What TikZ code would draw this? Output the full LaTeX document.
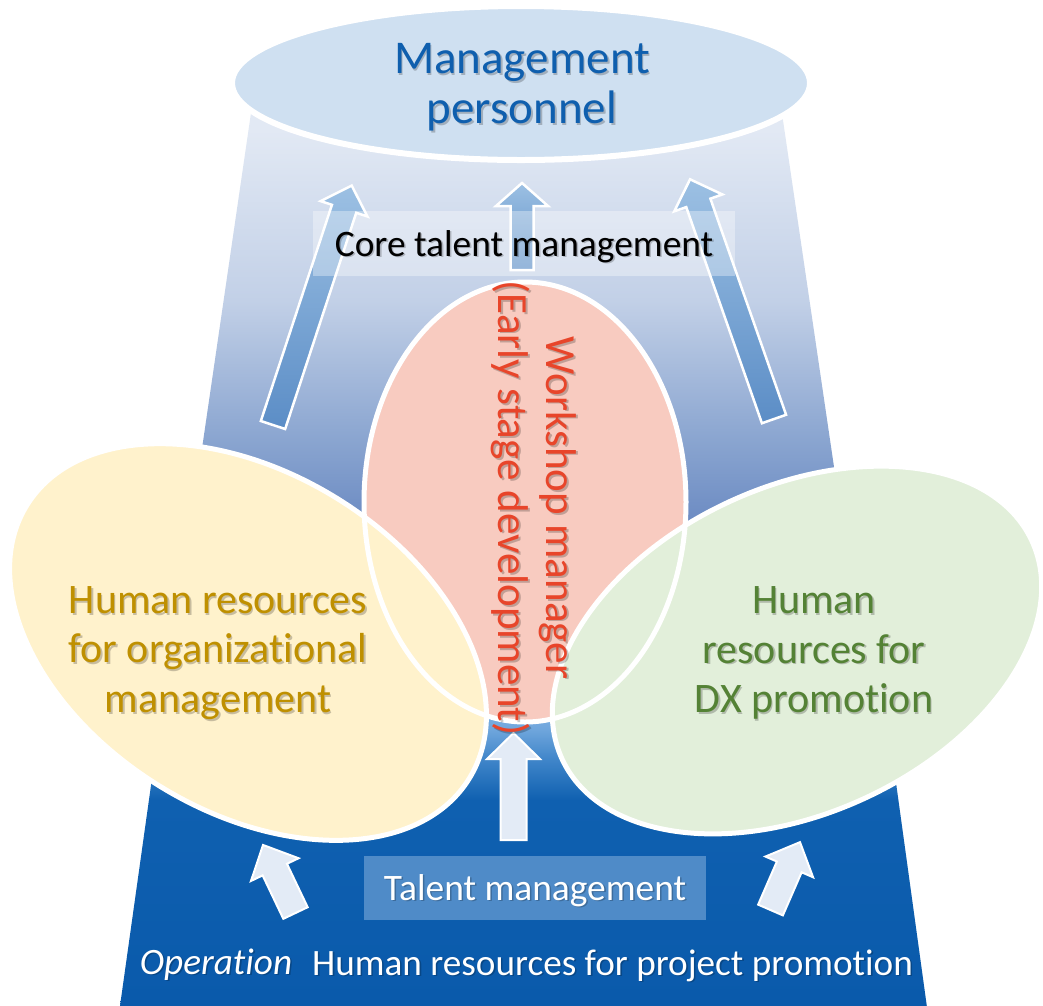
\documentclass[tikz,border=0pt]{standalone}
\usepackage{fontspec}
\setmainfont{Carlito}[Ligatures=NoCommon]
\usetikzlibrary{shapes.geometric,calc}
\definecolor{ub1}{HTML}{E2E9F4}
\definecolor{ub2}{HTML}{C2D0E7}
\definecolor{ub3}{HTML}{8AA5D0}
\definecolor{ub4}{HTML}{6D8CC3}
\definecolor{ub5}{HTML}{5A80BE}
\definecolor{lb1}{HTML}{8AB9E6}
\definecolor{lb2}{HTML}{6EA5DC}
\definecolor{lb3}{HTML}{3F85C9}
\definecolor{lb4}{HTML}{0F60B0}
\definecolor{lb5}{HTML}{0A5AAB}
\definecolor{topfill}{HTML}{CFE0F1}
\definecolor{toptext}{HTML}{0F5FAE}
\definecolor{redfill}{HTML}{F8CBC0}
\definecolor{redtext}{HTML}{E8452A}
\definecolor{yelfill}{HTML}{FFF2CC}
\definecolor{yeltext}{HTML}{BF9000}
\definecolor{grnfill}{HTML}{E2EFDA}
\definecolor{grntext}{HTML}{548235}
\definecolor{arrtop}{HTML}{9CC0E3}
\definecolor{arrbot}{HTML}{5B8DC6}
\definecolor{lowarr}{HTML}{E3EBF6}
\definecolor{tmbox}{HTML}{4F8BC8}
\pgfdeclareverticalshading{upperbg}{100bp}{color(0bp)=(ub5); color(25bp)=(ub5); color(40.9bp)=(ub4); color(47.4bp)=(ub3); color(58.7bp)=(ub2); color(72.6bp)=(ub1); color(100bp)=(ub1)}
\pgfdeclareverticalshading{lowerbg}{100bp}{color(0bp)=(lb5); color(25bp)=(lb5); color(58.6bp)=(lb4); color(65.2bp)=(lb3); color(70.1bp)=(lb2); color(75bp)=(lb1); color(100bp)=(lb1)}
\newcommand\blockarrow[7]{%
  \begin{scope}[shift={#2}, rotate=#3]
    \path[#1] (0,-#5) -- ({#4-#7},-#5) -- ({#4-#7},-#6) -- (#4,0) -- ({#4-#7},#6) -- ({#4-#7},#5) -- (0,#5) -- cycle;
  \end{scope}}
% text with a soft drop shadow: name, position, options, text
\newcommand\shtext[4]{%
  \node[lbl, #3, text=black, text opacity=0.22] (#1-sh) at ($#2+(1.6,1.8)$) {#4};
  \node[lbl, #3] (#1) at #2 {#4};}
\tikzset{
  upperarrow/.style={draw=white, line width=2.5pt, top color=arrtop, bottom color=arrbot, line join=miter},
  lowerarrow/.style={draw=white, line width=2pt, fill=lowarr, line join=miter},
  outline/.style={draw=white, line width=5pt},
  lbl/.style={inner sep=0pt, align=center},
}
\begin{document}
\begin{tikzpicture}[x=1pt,y=-1pt]
\useasboundingbox (0,0) rectangle (1043,1005);
\fill[white] (0,0) rectangle (1043,1005);
% background trapezoids
\shade[shading=upperbg] (252.9,100) -- (780,100) -- (870.5,715) -- (163.1,715) -- cycle;
\shade[shading=lowerbg] (163,700) -- (884.6,700) -- (926.8,1006) -- (120,1006) -- cycle;
% top ellipse
\path[fill=topfill, draw=white, line width=6pt] (521,83) ellipse [x radius=289, y radius=77];
\shtext{mgmt}{(522,87)}{font=\fontsize{47}{50}\selectfont, text=toptext}{Management\\personnel}
% upper arrows
\blockarrow{upperarrow}{(273,425)}{71.8}{252}{12.8}{24.6}{24.4}
\blockarrow{upperarrow}{(522,270)}{90}{87}{11.5}{26}{23}
\blockarrow{upperarrow}{(774,419)}{109.3}{254}{12.8}{25.5}{25}
% band
\fill[white, opacity=0.35] (313,211) rectangle (735,276);
\shtext{core}{(524,256)}{anchor=base, font=\fontsize{37.4}{44}\selectfont}{Core talent management}
% ellipses
\fill[redfill] (525,502) ellipse [x radius=161, y radius=220];
\fill[yelfill, rotate around={-31.7:(248,642)}] (248,642) ellipse [x radius=260, y radius=169];
\fill[grnfill, rotate around={25:(797,650)}] (797,650) ellipse [x radius=259, y radius=163];
\path[outline] (525,502) ellipse [x radius=161, y radius=220];
\path[outline, rotate around={-31.7:(248,642)}] (248,642) ellipse [x radius=260, y radius=169];
\path[outline, rotate around={25:(797,650)}] (797,650) ellipse [x radius=259, y radius=163];
% texts in ellipses
\shtext{org}{(218,653)}{font=\fontsize{42}{49.5}\selectfont, text=yeltext}{Human resources\\for organizational\\management}
\shtext{dx}{(814,653)}{font=\fontsize{42}{49.5}\selectfont, text=grntext}{Human\\resources for\\DX promotion}
% lower arrows
\blockarrow{lowerarrow}{(513.5,840)}{90}{107}{13}{26.5}{26}
\blockarrow{lowerarrow}{(295.5,913)}{115.5}{75.4}{13.5}{26.4}{27.3}
\blockarrow{lowerarrow}{(770.5,910)}{66.5}{74}{13.5}{26}{27}
% talent box
\fill[tmbox] (364,856) rectangle (706,920);
\shtext{talent}{(535,900)}{anchor=base, text=white, font=\fontsize{37.4}{44}\selectfont}{Talent management}
\shtext{oper}{(216,974)}{anchor=base, text=white, font=\fontsize{37.2}{44}\selectfont\itshape}{Operation}
\shtext{proj}{(612.5,975)}{anchor=base, text=white, font=\fontsize{37.2}{44}\selectfont}{Human resources for project promotion}
% vertical text
\shtext{wsm}{(534,508)}{rotate=-90, text=redtext, font=\fontsize{43}{48}\selectfont}{Workshop manager\\(Early stage development)}
\end{tikzpicture}
\end{document}
